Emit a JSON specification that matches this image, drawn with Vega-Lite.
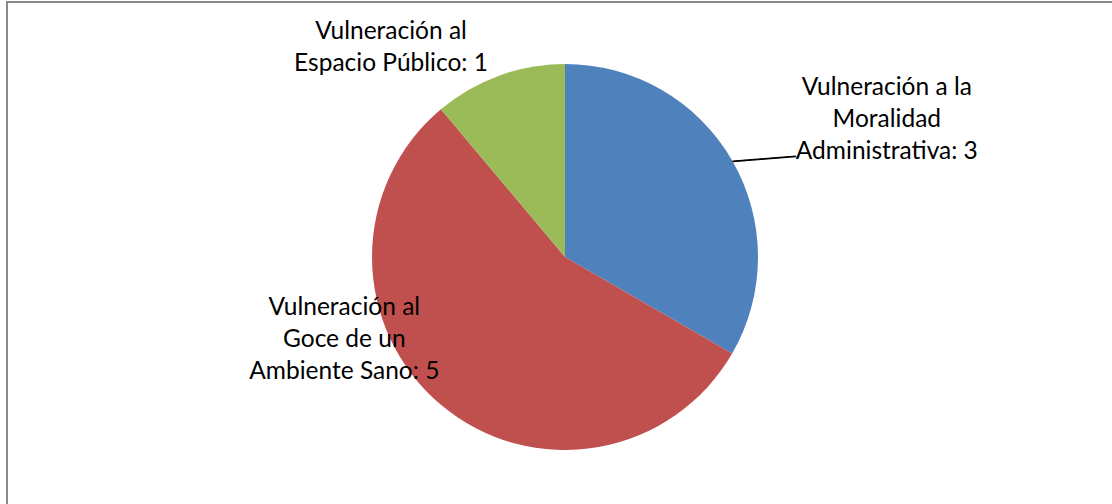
{
  "$schema": "https://vega.github.io/schema/vega-lite/v6.json",
  "width": 1116,
  "height": 510,
  "autosize": "none",
  "padding": {"left": 7, "top": 2, "right": 0, "bottom": 0},
  "background": "white",
  "config": {"view": {"stroke": null}},
  "datasets": {
    "pie": [
      {"cat": "Moralidad", "label": "Vulneración a la\nMoralidad\nAdministrativa: 3", "value": 3, "orden": 1},
      {"cat": "Ambiente", "label": "Vulneración al\nGoce de un\nAmbiente Sano: 5", "value": 5, "orden": 2},
      {"cat": "Espacio", "label": "Vulneración al\nEspacio Público: 1", "value": 1, "orden": 3}
    ],
    "frame": [{"name": "borde"}]
  },
  "layer": [
    {
      "data": {"name": "frame"},
      "mark": {"type": "rect", "fill": null, "stroke": "#8a8a8a", "strokeWidth": 2},
      "encoding": {}
    },
    {
      "data": {"name": "pie"},
      "mark": {"type": "arc", "radius": 193},
      "encoding": {
        "theta": {"field": "value", "type": "quantitative", "stack": true},
        "order": {"field": "orden", "type": "quantitative"},
        "color": {
          "field": "cat",
          "type": "nominal",
          "scale": {"domain": ["Moralidad", "Ambiente", "Espacio"], "range": ["#4F81BD", "#C0504D", "#9BBB59"]},
          "legend": null
        }
      }
    },
    {
      "data": {"name": "pie"},
      "mark": {"type": "text", "radius": 223, "dx": 5, "dy": 15, "angle": -4.5, "font": "DejaVu Sans", "fontSize": 21, "fill": "black", "align": "center", "baseline": "middle"},
      "encoding": {
        "theta": {"field": "value", "type": "quantitative", "stack": true},
        "order": {"field": "orden", "type": "quantitative"},
        "text": {"condition": {"test": "datum.cat === 'Moralidad'", "value": "─────"}, "value": ""}
      }
    },
    {
      "data": {"name": "pie"},
      "mark": {"type": "text", "radius": 300, "dx": 62, "dy": -19, "font": "Lato", "fontSize": 24.5, "lineHeight": 32, "lineBreak": "\n", "fill": "black", "align": "center", "baseline": "middle"},
      "encoding": {
        "theta": {"field": "value", "type": "quantitative", "stack": true},
        "order": {"field": "orden", "type": "quantitative"},
        "text": {"condition": {"test": "datum.cat === 'Moralidad'", "field": "label"}, "value": ""}
      }
    },
    {
      "data": {"name": "pie"},
      "mark": {"type": "text", "radius": 110, "dx": -150, "dy": -33, "font": "Lato", "fontSize": 24.5, "lineHeight": 32, "lineBreak": "\n", "fill": "black", "align": "center", "baseline": "middle"},
      "encoding": {
        "theta": {"field": "value", "type": "quantitative", "stack": true},
        "order": {"field": "orden", "type": "quantitative"},
        "text": {"condition": {"test": "datum.cat === 'Ambiente'", "field": "label"}, "value": ""}
      }
    },
    {
      "data": {"name": "pie"},
      "mark": {"type": "text", "radius": 225, "dx": -97, "dy": -14, "font": "Lato", "fontSize": 24.5, "lineHeight": 32, "lineBreak": "\n", "fill": "black", "align": "center", "baseline": "middle"},
      "encoding": {
        "theta": {"field": "value", "type": "quantitative", "stack": true},
        "order": {"field": "orden", "type": "quantitative"},
        "text": {"condition": {"test": "datum.cat === 'Espacio'", "field": "label"}, "value": ""}
      }
    }
  ]
}
